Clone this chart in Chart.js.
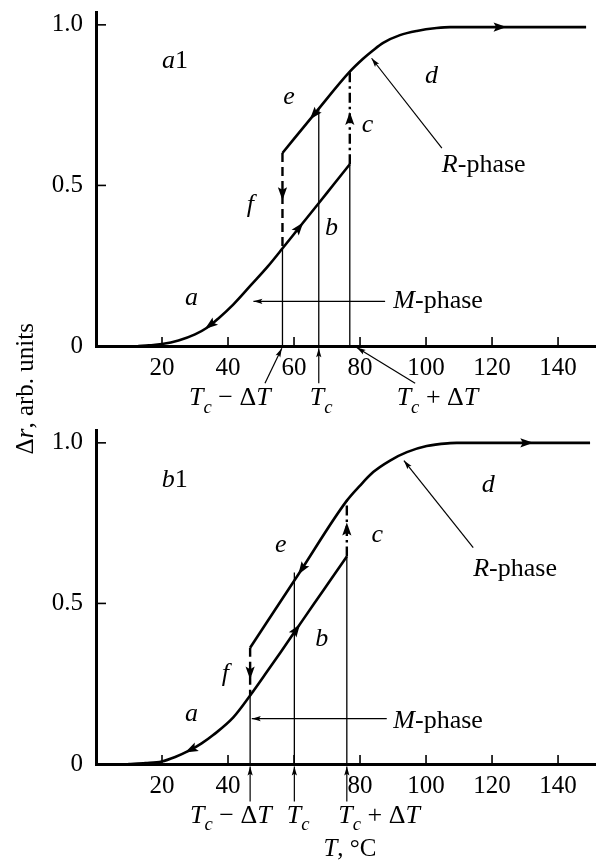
<!DOCTYPE html>
<html><head><meta charset="utf-8">
<script src="https://cdn.jsdelivr.net/npm/chart.js@4.4.1/dist/chart.umd.min.js"></script>
<style>
html,body{margin:0;padding:0;background:#fff;}
#wrap{position:relative;width:596px;height:863px;overflow:hidden;background:#fff;}
#wrap canvas{position:absolute;left:0;top:0;}
</style></head><body>
<div id="wrap"><canvas id="c1" width="596" height="863"></canvas><canvas id="c2" width="596" height="863"></canvas></div>
<script>
// ---------- data ----------
const xTickValues = [20, 40, 60, 80, 100, 120, 140];
const a1XLabels = ['20', '40', '60', '80', '100', '120', '140'];
const b1XLabels = ['20', '40', '', '80', '100', '120', '140'];
const yTickValues = [0, 0.5, 1.0];
const yTickLabels = ['0', '0.5', '1.0'];

// panel a1
const a1HeatT = [12.8, 16, 20, 25, 30, 33.5, 37, 41.5, 47, 52, 56.6, 61.8, 67.6, 72, 76.9];
const a1HeatR = [0, 0.002, 0.006, 0.017, 0.036, 0.056, 0.085, 0.128, 0.19, 0.247, 0.305, 0.372, 0.446, 0.503, 0.566];
const a1CoolT = [56.5, 66.4, 76.9, 81, 84, 87, 92.1, 97.2, 103.2, 107.3, 124.4, 148.5];
const a1CoolR = [0.601, 0.725, 0.854, 0.895, 0.921, 0.944, 0.968, 0.981, 0.99, 0.993, 0.993, 0.993];
const a1Marks = [56.5, 67.5, 76.9];          // Tc−ΔT, Tc, Tc+ΔT
const a1MarkTops = [0.304, 0.737, 0.566];
const a1JumpF = [0.601, 0.304];
const a1JumpC = [0.566, 0.854];
const a1MPhase = [[87.6, 0.139], [47.7, 0.139]];
const a1RPhase = [[104.8, 0.616], [83.5, 0.896]];

// panel b1
const b1HeatT = [9.8, 15, 19.9, 24, 28.5, 32, 35.5, 41.6, 46.7, 52, 56, 61.3, 66, 71, 76];
const b1HeatR = [0, 0.003, 0.008, 0.022, 0.043, 0.064, 0.09, 0.145, 0.213, 0.29, 0.349, 0.428, 0.498, 0.572, 0.646];
const b1CoolT = [46.7, 61.3, 76, 80, 84, 89.1, 94.2, 100.2, 107.3, 109.3, 132.5, 149.7];
const b1CoolR = [0.362, 0.59, 0.82, 0.867, 0.909, 0.945, 0.971, 0.99, 0.999, 1.0, 1.0, 1.0];
const b1Marks = [46.7, 60.1, 76.0];
const b1MarkTops = [0.213, 0.596, 0.646];
const b1JumpF = [0.362, 0.213];
const b1JumpC = [0.646, 0.82];
const b1MPhase = [[88.1, 0.141], [47.2, 0.141]];
const b1RPhase = [[114.3, 0.674], [93.3, 0.945]];

// ---------- drawing ----------
const FONT = '"Liberation Serif", "Times New Roman", serif';
const xy = (T, R) => T.map((t, i) => ({x: t, y: R[i]}));
const pts = a => a.map(p => ({x: p[0], y: p[1]}));
const seg = (w, dash) => ({showLine: true, borderColor: '#000', backgroundColor: '#000', borderWidth: w,
  borderDash: dash || [], pointRadius: 0, fill: false, tension: 0, clip: false});

function interp(T, R, t) {
  for (let i = 0; i < T.length - 1; i++) {
    if (t >= T[i] && t <= T[i + 1]) return R[i] + (R[i + 1] - R[i]) * (t - T[i]) / (T[i + 1] - T[i]);
  }
  return t < T[0] ? R[0] : R[R.length - 1];
}
function head(ctx, tx, ty, ang, len, hw) {
  const c = Math.cos(ang), s = Math.sin(ang);
  ctx.beginPath();
  ctx.moveTo(tx, ty);
  ctx.lineTo(tx - len * c + hw * s, ty - len * s - hw * c);
  ctx.lineTo(tx - len * 0.8 * c, ty - len * 0.8 * s);
  ctx.lineTo(tx - len * c - hw * s, ty - len * s + hw * c);
  ctx.closePath();
  ctx.fill();
}
function richWidth(ctx, segs, size) {
  let w = 0;
  segs.forEach(([t, it, sub]) => {
    ctx.font = (it ? 'italic ' : '') + (sub ? size * 0.72 : size) + 'px ' + FONT;
    w += ctx.measureText(t).width;
  });
  return w;
}
function rich(ctx, x, y, segs, size) {
  let cx = x;
  segs.forEach(([t, it, sub]) => {
    ctx.font = (it ? 'italic ' : '') + (sub ? size * 0.72 : size) + 'px ' + FONT;
    ctx.fillText(t, cx, sub ? y + size * 0.28 : y);
    cx += ctx.measureText(t).width;
  });
}
const TcMinus = [['T', 1], ['c', 1, 1], [' \u2212 \u0394', 0], ['T', 1]];
const TcOnly = [['T', 1], ['c', 1, 1]];
const TcPlus = [['T', 1], ['c', 1, 1], [' + \u0394', 0], ['T', 1]];

const annotPlugin = {
  id: 'annot',
  afterDraw(chart, args, o) {
    const ctx = chart.ctx, xs = chart.scales.x, ys = chart.scales.y, ca = chart.chartArea;
    const px = v => xs.getPixelForValue(v), py = v => ys.getPixelForValue(v);
    ctx.save();
    ctx.fillStyle = '#000'; ctx.strokeStyle = '#000';
    // inward tick marks
    ctx.lineWidth = 1.6;
    xs.ticks.forEach(t => { const x = px(t.value); ctx.beginPath(); ctx.moveTo(x, ca.bottom); ctx.lineTo(x, ca.bottom - 9); ctx.stroke(); });
    ys.ticks.forEach(t => { if (t.value === 0) return; const y = py(t.value); ctx.beginPath(); ctx.moveTo(ca.left, y); ctx.lineTo(ca.left + 10, y); ctx.stroke(); });
    // arrowheads on curves
    o.curveArrows.forEach(a => {
      const T = a.s === 'heat' ? o.heatT : o.coolT, R = a.s === 'heat' ? o.heatR : o.coolR;
      const tx = px(a.at), ty = py(interp(T, R, a.at));
      const t0 = a.at - a.dir * 2;
      const sx = px(t0), sy = py(interp(T, R, t0));
      head(ctx, tx, ty, Math.atan2(ty - sy, tx - sx), 13, 4.6);
    });
    // vertical jump arrows (f down, c up)
    o.vArrows.forEach(a => {
      head(ctx, px(a.x), py(a.y), a.dir > 0 ? -Math.PI / 2 : Math.PI / 2, 13, 4.6);
    });
    // small pointer heads
    o.pointers.forEach(p => {
      const fx = px(p[0][0]), fy = py(p[0][1]), tx = px(p[1][0]), ty = py(p[1][1]);
      head(ctx, tx, ty, Math.atan2(ty - fy, tx - fx), 9, 2.6);
    });
    // labels
    ctx.textAlign = 'left'; ctx.textBaseline = 'alphabetic';
    o.labels.forEach(l => rich(ctx, px(l.x), py(l.y), l.segs, l.size || 26));
    // rotated y title
    if (o.yTitle) {
      const segs = o.yTitle.segs, size = o.yTitle.size;
      const w = richWidth(ctx, segs, size);
      ctx.save();
      ctx.translate(px(o.yTitle.x), py(o.yTitle.y));
      ctx.rotate(-Math.PI / 2);
      rich(ctx, -w / 2, 0, segs, size);
      ctx.restore();
    }
    ctx.restore();
  }
};

function makePanel(id, P) {
  const datasets = [
    Object.assign(seg(2.6), {data: xy(P.heatT, P.heatR), cubicInterpolationMode: 'monotone'}),
    Object.assign(seg(2.6), {data: xy(P.coolT, P.coolR), cubicInterpolationMode: 'monotone'}),
    Object.assign(seg(2.4, [9, 5]), {data: [{x: P.marks[0], y: P.jumpF[0]}, {x: P.marks[0], y: P.jumpF[1]}]}),
    Object.assign(seg(2.4, [10, 4, 2.5, 4]), {data: [{x: P.marks[2], y: P.jumpC[0]}, {x: P.marks[2], y: P.jumpC[1]}]})
  ];
  P.marks.forEach((m, i) => datasets.push(Object.assign(seg(1.3), {data: [{x: m, y: 0}, {x: m, y: P.markTops[i]}]})));
  P.pointers.forEach(p => datasets.push(Object.assign(seg(1.2), {data: pts(p)})));
  return new Chart(document.getElementById(id), {
    type: 'scatter',
    data: {datasets},
    options: {
      responsive: false, animation: false, events: [],
      layout: {padding: {top: P.padTop, bottom: P.padBottom, left: 0, right: 0}},
      plugins: {legend: {display: false}, tooltip: {enabled: false}, title: {display: false}, annot: P},
      scales: {
        x: {
          type: 'linear', min: 0, max: 151.5,
          grid: {drawOnChartArea: false, drawTicks: false},
          border: {display: true, width: 3, color: '#000'},
          afterBuildTicks: s => { s.ticks = xTickValues.map(v => ({value: v})); },
          ticks: {callback: (v, i) => P.xLabels[i], font: {family: FONT, size: 25}, color: '#000',
                  padding: 7, maxRotation: 0, autoSkip: false},
          afterFit: s => { s.height = 74; s.paddingLeft = 0; s.paddingRight = 0; }
        },
        y: {
          type: 'linear', min: 0, max: 1.04,
          grid: {drawOnChartArea: false, drawTicks: false},
          border: {display: true, width: 3, color: '#000'},
          afterBuildTicks: s => { s.ticks = yTickValues.map(v => ({value: v})); },
          ticks: {callback: (v, i) => yTickLabels[i], font: {family: FONT, size: 25}, color: '#000', padding: 13},
          afterFit: s => { s.width = 96; s.paddingTop = 0; s.paddingBottom = 0; }
        }
      }
    },
    plugins: [annotPlugin]
  });
}

makePanel('c1', {
  padTop: 12, padBottom: 443, xLabels: a1XLabels,
  heatT: a1HeatT, heatR: a1HeatR, coolT: a1CoolT, coolR: a1CoolR,
  marks: a1Marks, markTops: a1MarkTops, jumpF: a1JumpF, jumpC: a1JumpC,
  pointers: [a1MPhase, a1RPhase,
    [[51.2, -0.116], [56.3, -0.007]], [[67.5, -0.116], [67.5, -0.007]], [[96.7, -0.116], [79, -0.005]]],
  curveArrows: [{s: 'heat', at: 33, dir: -1}, {s: 'heat', at: 62.8, dir: 1}, {s: 'cool', at: 64.8, dir: -1}, {s: 'cool', at: 124.4, dir: 1}],
  vArrows: [{x: 56.5, y: 0.454, dir: -1}, {x: 76.9, y: 0.729, dir: 1}],
  labels: [
    {x: 20, y: 0.865, segs: [['a', 1], ['1', 0]]},
    {x: 56.7, y: 0.753, segs: [['e', 1]]},
    {x: 80.5, y: 0.667, segs: [['c', 1]]},
    {x: 99.7, y: 0.818, segs: [['d', 1]]},
    {x: 45.7, y: 0.417, segs: [['f', 1]]},
    {x: 69.4, y: 0.345, segs: [['b', 1]]},
    {x: 27, y: 0.127, segs: [['a', 1]]},
    {x: 90.1, y: 0.117, segs: [['M', 1], ['-phase', 0]]},
    {x: 104.8, y: 0.542, segs: [['R', 1], ['-phase', 0]]},
    {x: 28.2, y: -0.185, segs: TcMinus},
    {x: 64.8, y: -0.185, segs: TcOnly},
    {x: 91.1, y: -0.185, segs: TcPlus}
  ],
  yTitle: {x: -19, y: -0.133, size: 25, segs: [['\u0394', 0], ['r', 1], [', arb. units', 0]]}
});

makePanel('c2', {
  padTop: 430, padBottom: 25, xLabels: b1XLabels,
  heatT: b1HeatT, heatR: b1HeatR, coolT: b1CoolT, coolR: b1CoolR,
  marks: b1Marks, markTops: b1MarkTops, jumpF: b1JumpF, jumpC: b1JumpC,
  pointers: [b1MPhase, b1RPhase,
    [[46.7, -0.117], [46.7, -0.008]], [[60.1, -0.117], [60.1, -0.008]], [[76, -0.117], [76, -0.008]]],
  curveArrows: [{s: 'heat', at: 27, dir: -1}, {s: 'heat', at: 61.8, dir: 1}, {s: 'cool', at: 61.3, dir: -1}, {s: 'cool', at: 132.5, dir: 1}],
  vArrows: [{x: 46.7, y: 0.263, dir: -1}, {x: 76, y: 0.752, dir: 1}],
  labels: [
    {x: 19.9, y: 0.863, segs: [['b', 1], ['1', 0]]},
    {x: 54.2, y: 0.659, segs: [['e', 1]]},
    {x: 83.5, y: 0.69, segs: [['c', 1]]},
    {x: 116.9, y: 0.847, segs: [['d', 1]]},
    {x: 38.1, y: 0.257, segs: [['f', 1]]},
    {x: 66.4, y: 0.367, segs: [['b', 1]]},
    {x: 27, y: 0.133, segs: [['a', 1]]},
    {x: 90.1, y: 0.112, segs: [['M', 1], ['-phase', 0]]},
    {x: 114.3, y: 0.586, segs: [['R', 1], ['-phase', 0]]},
    {x: 28.5, y: -0.183, segs: TcMinus},
    {x: 57.8, y: -0.183, segs: TcOnly},
    {x: 73.4, y: -0.183, segs: TcPlus},
    {x: 68.9, y: -0.286, size: 25, segs: [['T', 1], [', \u00B0C', 0]]}
  ]
});
</script>
</body></html>
